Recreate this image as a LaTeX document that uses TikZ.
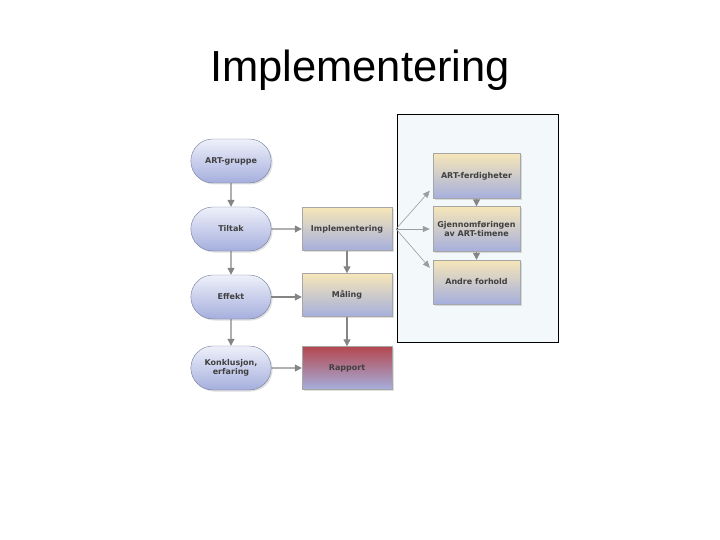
\documentclass[tikz,border=0pt]{standalone}
\usepackage{fontspec}
\setmainfont{Liberation Sans}
\newfontfamily\boxfont{DejaVu Sans}
\usetikzlibrary{shapes.misc,shadows,arrows.meta}
\definecolor{lavender}{HTML}{A5AFDD}
\definecolor{paleblue}{HTML}{EEF0FA}
\definecolor{sand}{HTML}{F6E6B8}
\definecolor{brick}{HTML}{B4474F}
\definecolor{panelfill}{HTML}{F3F8FA}
\definecolor{linegray}{HTML}{858585}
\tikzset{
  boxtext/.style={font=\boxfont\bfseries\fontsize{8}{9.5}\selectfont, text=black!75, align=center},
  pill/.style={rounded rectangle, boxtext, draw=lavender!70!black, thin, minimum width=87pt, minimum height=44pt, top color=paleblue, bottom color=lavender, drop shadow={opacity=0.25, shadow xshift=1.5pt, shadow yshift=-1.5pt}},
  stepbox/.style={rectangle, boxtext, draw=black!35, thin, minimum width=90pt, minimum height=43pt, top color=sand, bottom color=lavender, drop shadow={opacity=0.25, shadow xshift=1.5pt, shadow yshift=-1.5pt}},
  flow/.style={-{Triangle[length=7pt,width=7pt]}, draw=linegray, line width=1.1pt},
  fan/.style={-{Triangle[length=7pt,width=6pt]}, draw=linegray!80, line width=0.6pt}
}
\begin{document}
\begin{tikzpicture}[x=1pt,y=-1pt]
  \useasboundingbox (0,0) rectangle (720,540);
  % titolo
  \node (title) [anchor=base, font=\fontsize{43.5}{50}\selectfont] at (360,82) {Implementering};
  % pannello a destra
  \node (panel) [draw=black, fill=panelfill, line width=0.8pt, minimum width=161pt, minimum height=228pt, inner sep=0pt] at (477.5,228) {};
  % colonna sinistra
  \node (gruppe) [pill] at (231,161) {ART-gruppe};
  \node (tiltak) [pill] at (231,229) {Tiltak};
  \node (effekt) [pill] at (231,297) {Effekt};
  \node (konkl) [pill] at (231,368) {Konklusjon,\\erfaring};
  % colonna centrale
  \node (impl) [stepbox] at (347,229) {Implementering};
  \node (maling) [stepbox] at (347,295) {M\r{a}ling};
  \node (rapport) [stepbox, top color=brick, bottom color=lavender] at (347,368) {Rapport};
  % dettagli
  \node (artf) [stepbox, minimum width=87pt, minimum height=45pt] at (476.5,176) {ART-ferdigheter};
  \node (gjenn) [stepbox, minimum width=87pt, minimum height=45pt] at (476.5,229) {Gjennomf\o{}ringen\\av ART-timene};
  \node (andre) [stepbox, minimum width=87pt, minimum height=44pt] at (476.5,282) {Andre forhold};
  % frecce
  \draw [flow] (gruppe) -- (tiltak);
  \draw [flow] (tiltak) -- (effekt);
  \draw [flow] (effekt) -- (konkl);
  \draw [flow] (tiltak) -- (impl);
  \draw [flow] (effekt.east) -- (maling.west |- effekt.east);
  \draw [flow] (konkl) -- (rapport);
  \draw [flow] (impl) -- (maling);
  \draw [flow] (maling) -- (rapport);
  \draw [flow] (artf) -- (gjenn);
  \draw [flow] (gjenn) -- (andre);
  % ventaglio
  \coordinate (fork) at (396,229);
  \draw [fan] (fork) -- ([xshift=-3pt,yshift=8pt]artf.south west);
  \draw [fan] (fork) -- ([xshift=-3pt]gjenn.west);
  \draw [fan] (fork) -- ([xshift=-3pt,yshift=-8pt]andre.north west);
\end{tikzpicture}
\end{document}
